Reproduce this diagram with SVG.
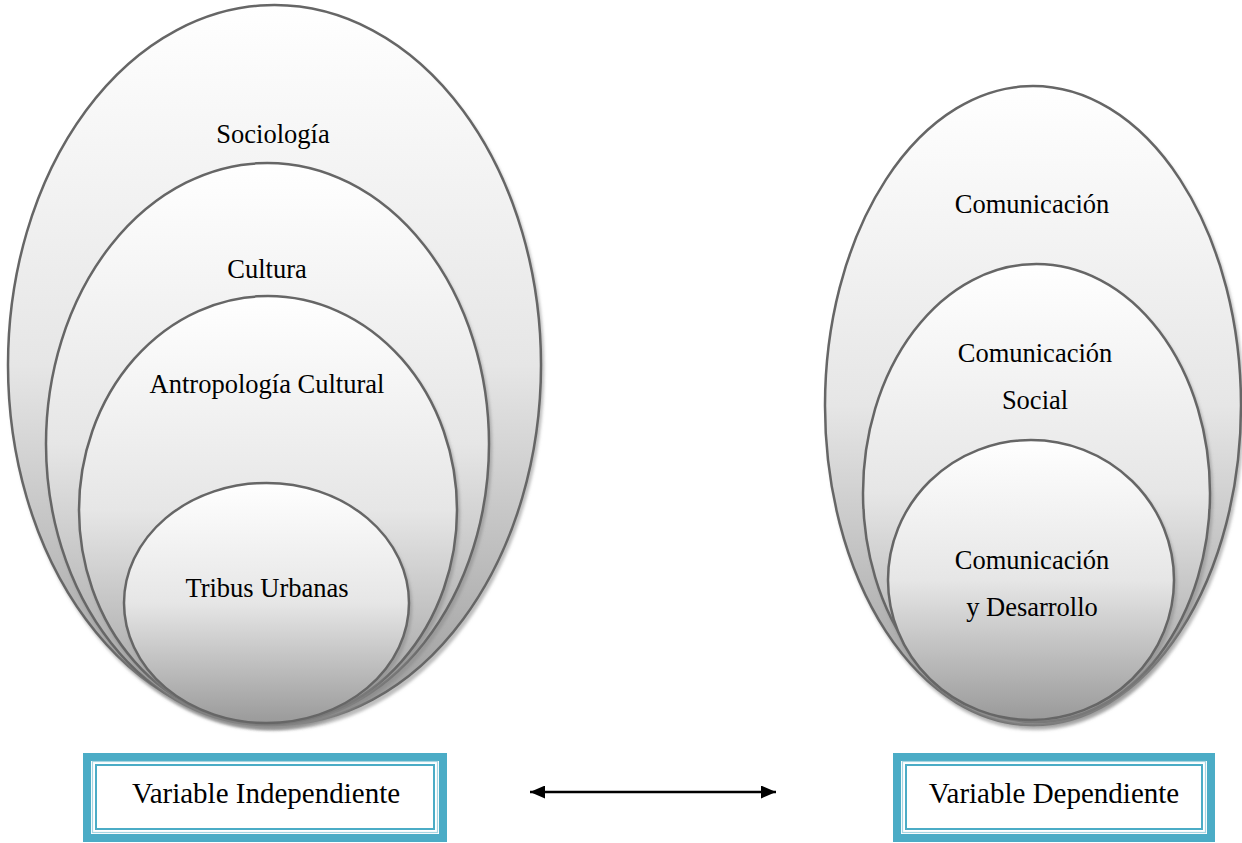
<svg xmlns="http://www.w3.org/2000/svg" width="1242" height="843" viewBox="0 0 1242 843">
<style>
.el{stroke:#666;stroke-width:2.5;fill:url(#g);filter:url(#sh)}
.t{font-family:"Liberation Serif","DejaVu Serif",serif;font-size:26.5px;fill:#000;text-anchor:middle}
.bt{font-family:"Liberation Serif","DejaVu Serif",serif;font-size:29px;fill:#000;text-anchor:middle}
.b1{fill:#fff;stroke:#4bacc6;stroke-width:8}
.b2{fill:none;stroke:#a5d5e2;stroke-width:1.2}
.b3{fill:none;stroke:#4bacc6;stroke-width:2}
</style>
<defs>
<linearGradient id="g" x1="0" y1="0" x2="0" y2="1">
<stop offset="0" stop-color="#ffffff"/>
<stop offset="0.5" stop-color="#e6e6e6"/>
<stop offset="1" stop-color="#9a9a9a"/>
</linearGradient>
<filter id="sh" x="-10%" y="-10%" width="120%" height="120%">
<feDropShadow dx="2" dy="4" stdDeviation="1.5" flood-color="#888" flood-opacity="0.55"/>
</filter>
<marker id="ah" viewBox="0 0 15 13" refX="15" refY="6.5" markerWidth="15" markerHeight="13" markerUnits="userSpaceOnUse" orient="auto-start-reverse">
<path d="M0,0 L15,6.5 L0,13 z" fill="#000"/>
</marker>
</defs>
<rect width="1242" height="843" fill="#fff"/>
<g id="sociologia"><ellipse class="el" cx="274.5" cy="365" rx="266.5" ry="360"/><text class="t" x="273" y="143">Sociología</text></g>
<g id="cultura"><ellipse class="el" cx="267.5" cy="444" rx="221.5" ry="281"/><text class="t" x="267" y="278">Cultura</text></g>
<g id="antropologia"><ellipse class="el" cx="268" cy="510" rx="189" ry="214"/><text class="t" x="267" y="393">Antropología Cultural</text></g>
<g id="tribus"><ellipse class="el" cx="266.5" cy="603" rx="142.5" ry="120"/><text class="t" x="267" y="597">Tribus Urbanas</text></g>
<g id="comunicacion"><ellipse class="el" cx="1033" cy="405.5" rx="208" ry="319.5"/><text class="t" x="1032" y="213">Comunicación</text></g>
<g id="comunicacion-social"><ellipse class="el" cx="1036.5" cy="493" rx="173.5" ry="229"/><text class="t" x="1035" y="362">Comunicación</text><text class="t" x="1035" y="409">Social</text></g>
<g id="comunicacion-desarrollo"><ellipse class="el" cx="1031" cy="580" rx="143" ry="140"/><text class="t" x="1032" y="569">Comunicación</text><text class="t" x="1032" y="616">y Desarrollo</text></g>
<g id="var-independiente"><rect class="b1" x="87" y="757" width="356" height="81"/><rect class="b2" x="92.5" y="761.5" width="345" height="71"/><rect class="b3" x="96" y="765" width="338" height="64"/><text class="bt" x="266" y="803">Variable Independiente</text></g>
<g id="var-dependiente"><rect class="b1" x="897" y="757" width="314" height="81"/><rect class="b2" x="902.5" y="761.5" width="303" height="71"/><rect class="b3" x="906" y="765" width="296" height="64"/><text class="bt" x="1054" y="803">Variable Dependiente</text></g>
<g id="connectors"><line x1="530" y1="792" x2="776" y2="792" stroke="#000" stroke-width="2.5" marker-start="url(#ah)" marker-end="url(#ah)"/></g>
</svg>
